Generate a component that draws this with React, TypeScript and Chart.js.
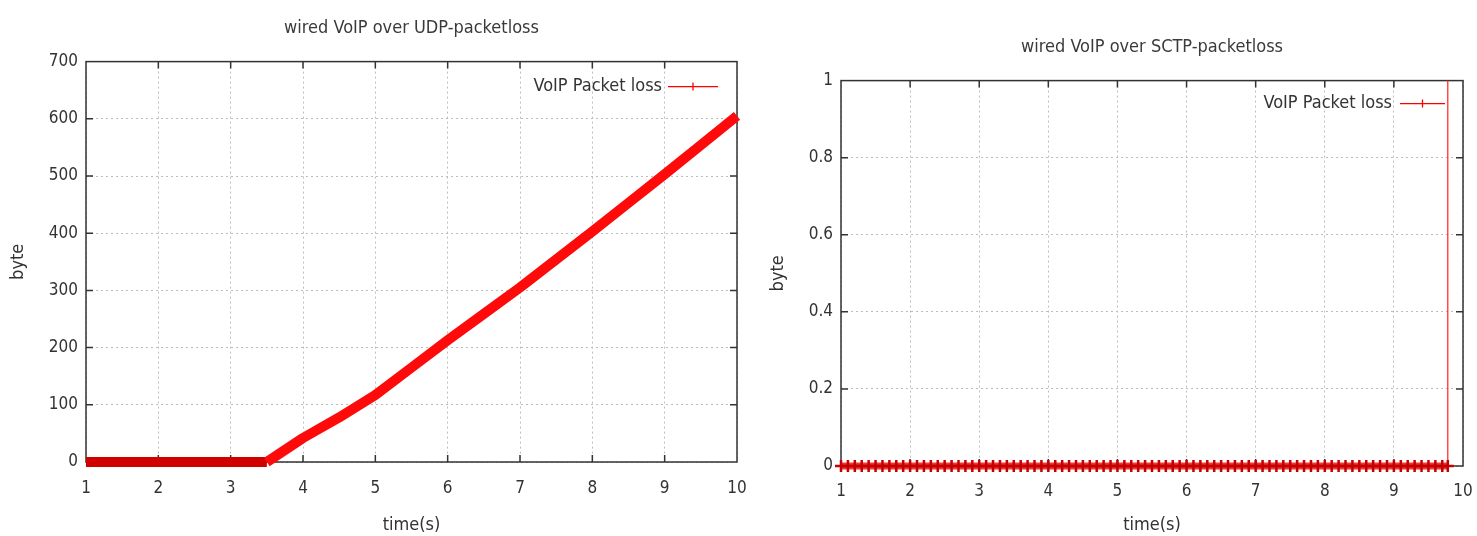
import React, { useEffect, useRef } from "react";
import { Chart, registerables } from "chart.js";

Chart.register(...registerables);

// ---------- data ----------
const udpTitle = "wired VoIP over UDP-packetloss";
const sctpTitle = "wired VoIP over SCTP-packetloss";
const seriesLabel = "VoIP Packet loss";
const xAxisLabel = "time(s)";
const yAxisLabel = "byte";

const udpTimes = [1, 1.5, 2, 2.5, 3, 3.5, 4, 4.5, 5, 5.5, 6, 6.5, 7, 7.5, 8, 8.5, 9, 9.5, 10];
const udpLoss = [0, 0, 0, 0, 0, 0, 42, 78, 117, 165, 213, 259, 305, 354, 403, 453, 503, 554, 605];

const sctpTimes = [
  1.0, 1.1, 1.2, 1.3, 1.4, 1.5, 1.6, 1.7, 1.8, 1.9,
  2.0, 2.1, 2.2, 2.3, 2.4, 2.5, 2.6, 2.7, 2.8, 2.9,
  3.0, 3.1, 3.2, 3.3, 3.4, 3.5, 3.6, 3.7, 3.8, 3.9,
  4.0, 4.1, 4.2, 4.3, 4.4, 4.5, 4.6, 4.7, 4.8, 4.9,
  5.0, 5.1, 5.2, 5.3, 5.4, 5.5, 5.6, 5.7, 5.8, 5.9,
  6.0, 6.1, 6.2, 6.3, 6.4, 6.5, 6.6, 6.7, 6.8, 6.9,
  7.0, 7.1, 7.2, 7.3, 7.4, 7.5, 7.6, 7.7, 7.8, 7.9,
  8.0, 8.1, 8.2, 8.3, 8.4, 8.5, 8.6, 8.7, 8.8, 8.9,
  9.0, 9.1, 9.2, 9.3, 9.4, 9.5, 9.6, 9.7, 9.78, 9.78,
];
const sctpLoss = [
  0, 0, 0, 0, 0, 0, 0, 0, 0, 0,
  0, 0, 0, 0, 0, 0, 0, 0, 0, 0,
  0, 0, 0, 0, 0, 0, 0, 0, 0, 0,
  0, 0, 0, 0, 0, 0, 0, 0, 0, 0,
  0, 0, 0, 0, 0, 0, 0, 0, 0, 0,
  0, 0, 0, 0, 0, 0, 0, 0, 0, 0,
  0, 0, 0, 0, 0, 0, 0, 0, 0, 0,
  0, 0, 0, 0, 0, 0, 0, 0, 0, 0,
  0, 0, 0, 0, 0, 0, 0, 0, 0, 1,
];

const xMin = 1;
const xMax = 10;
const xStep = 1;
const udpYMax = 700;
const udpYStep = 100;
const sctpYMax = 1;
const sctpYStep = 0.2;

// ---------- styling ----------
const FONT = "'DejaVu Sans Condensed', 'DejaVu Sans', sans-serif";
const TEXT = "#333333";
const GRID = "#bdbdbd";
const FRAME = "#333333";
const TICK_SIZE = 17;
const LABEL_SIZE = 18;

type Layout = {
  width: number;
  yAxisWidth: number;
  xAxisHeight: number;
  padRight: number;
  titleTop: number;
  titleBottom: number;
  xTickPad: number;
  legendTextOff: number;
  legendLineStart: number;
  legendLineEnd: number;
  legendDy: number;
};

function framePlugin(L: Layout) {
  return {
    id: "gnuframe",
    beforeDatasetsDraw(chart: any) {
      const { ctx, chartArea: a, scales } = chart;
      ctx.save();
      ctx.strokeStyle = FRAME;
      ctx.lineWidth = 1.5;
      ctx.strokeRect(a.left, a.top, a.right - a.left, a.bottom - a.top);
      ctx.beginPath();
      const tl = 7;
      scales.x.ticks.forEach((t: any) => {
        const px = scales.x.getPixelForValue(t.value);
        if (px <= a.left + 1 || px >= a.right - 1) return;
        ctx.moveTo(px, a.bottom);
        ctx.lineTo(px, a.bottom - tl);
        ctx.moveTo(px, a.top);
        ctx.lineTo(px, a.top + tl);
      });
      scales.y.ticks.forEach((t: any) => {
        const py = scales.y.getPixelForValue(t.value);
        if (py <= a.top + 1 || py >= a.bottom - 1) return;
        ctx.moveTo(a.left, py);
        ctx.lineTo(a.left + tl, py);
        ctx.moveTo(a.right, py);
        ctx.lineTo(a.right - tl, py);
      });
      ctx.stroke();
      ctx.restore();
    },
    afterDatasetsDraw(chart: any) {
      const { ctx, chartArea: a } = chart;
      const y = a.top + L.legendDy;
      ctx.save();
      ctx.font = `${LABEL_SIZE}px ${FONT}`;
      ctx.fillStyle = TEXT;
      ctx.textAlign = "right";
      ctx.textBaseline = "middle";
      ctx.fillText(seriesLabel, a.right - L.legendTextOff, y);
      ctx.strokeStyle = "#ff0000";
      ctx.lineWidth = 1.3;
      ctx.beginPath();
      const x0 = a.right - L.legendLineStart;
      const x1 = a.right - L.legendLineEnd;
      ctx.moveTo(x0, y);
      ctx.lineTo(x1, y);
      const cx = (x0 + x1) / 2;
      ctx.moveTo(cx, y - 4);
      ctx.lineTo(cx, y + 4);
      ctx.stroke();
      ctx.restore();
    },
  };
}

function buildConfig(
  title: string,
  times: number[],
  values: number[],
  yMax: number,
  yStep: number,
  L: Layout,
  kind: "udp" | "sctp"
): any {
  const points = times.map((t, i) => ({ x: t, y: values[i] }));
  const dataset: any =
    kind === "udp"
      ? {
          label: seriesLabel,
          data: points,
          borderColor: "#ff0000",
          borderWidth: 10,
          pointRadius: 0,
          tension: 0,
          clip: false,
          borderCapStyle: "butt",
          borderJoinStyle: "round",
          segment: {
            borderColor: (c: any) =>
              c.p0.parsed.y === 0 && c.p1.parsed.y === 0 ? "#d00000" : "#ff0a0a",
          },
        }
      : {
          label: seriesLabel,
          data: points,
          borderColor: "rgba(240,20,20,0.85)",
          borderWidth: 7,
          pointStyle: "cross",
          pointRadius: (c: any) => (c.raw && c.raw.y > 0 ? 0 : 6),
          pointBorderWidth: 2.5,
          pointBorderColor: "#c40000",
          tension: 0,
          clip: false,
          segment: {
            borderWidth: (c: any) => (c.p1.parsed.y > 0 ? 1.2 : 7),
            borderColor: (c: any) => (c.p1.parsed.y > 0 ? "#ff2020" : "rgba(240,20,20,0.85)"),
          },
        };

  return {
    type: "line",
    data: { datasets: [dataset] },
    plugins: [framePlugin(L)],
    options: {
      responsive: false,
      animation: false,
      devicePixelRatio: 1,
      layout: { padding: { left: 0, right: L.padRight, top: 0, bottom: 0 } },
      plugins: {
        legend: { display: false },
        tooltip: { enabled: false },
        title: {
          display: true,
          text: title,
          fullSize: false,
          color: "#3a3a3a",
          font: { family: FONT, size: LABEL_SIZE, weight: "normal" },
          padding: { top: L.titleTop, bottom: L.titleBottom },
        },
      },
      scales: {
        x: {
          type: "linear",
          min: xMin,
          max: xMax,
          ticks: {
            stepSize: xStep,
            padding: L.xTickPad,
            color: TEXT,
            font: { family: FONT, size: TICK_SIZE },
            maxRotation: 0,
            autoSkip: false,
          },
          grid: { color: GRID, drawTicks: false, lineWidth: 1 },
          border: { display: false, dash: [2, 3] },
          title: {
            display: true,
            text: xAxisLabel,
            color: TEXT,
            font: { family: FONT, size: LABEL_SIZE },
            padding: { top: 0, bottom: 0 },
          },
          afterFit(s: any) {
            s.height = L.xAxisHeight;
            s.paddingLeft = 0;
            s.paddingRight = 0;
          },
        },
        y: {
          type: "linear",
          min: 0,
          max: yMax,
          ticks: {
            stepSize: yStep,
            padding: 8,
            color: TEXT,
            font: { family: FONT, size: TICK_SIZE },
            callback: (v: any) => String(Number(Number(v).toFixed(2))),
          },
          grid: { color: GRID, drawTicks: false, lineWidth: 1 },
          border: { display: false, dash: [2, 3] },
          title: {
            display: true,
            text: yAxisLabel,
            color: TEXT,
            font: { family: FONT, size: LABEL_SIZE },
            padding: { top: 8, bottom: 0 },
          },
          afterFit(s: any) {
            s.width = L.yAxisWidth;
            s.paddingTop = 0;
            s.paddingBottom = 0;
          },
        },
      },
    },
  };
}

function ChartCanvas({ config, width, height }: { config: any; width: number; height: number }) {
  const ref = useRef<HTMLCanvasElement | null>(null);
  useEffect(() => {
    if (!ref.current) return;
    const chart = new Chart(ref.current, config);
    return () => chart.destroy();
  }, [config]);
  return (
    <canvas
      ref={ref}
      width={width}
      height={height}
      style={{ display: "block", width: `${width}px`, height: `${height}px` }}
    />
  );
}

const leftLayout: Layout = {
  width: 760,
  yAxisWidth: 86,
  xAxisHeight: 74,
  padRight: 23,
  titleTop: 18,
  titleBottom: 22,
  xTickPad: 16,
  legendTextOff: 75,
  legendLineStart: 69,
  legendLineEnd: 19,
  legendDy: 25,
};

const rightLayout: Layout = {
  width: 717,
  yAxisWidth: 81,
  xAxisHeight: 70,
  padRight: 14,
  titleTop: 37,
  titleBottom: 22,
  xTickPad: 15,
  legendTextOff: 71,
  legendLineStart: 63,
  legendLineEnd: 18,
  legendDy: 23,
};

const leftConfig = buildConfig(udpTitle, udpTimes, udpLoss, udpYMax, udpYStep, leftLayout, "udp");
const rightConfig = buildConfig(sctpTitle, sctpTimes, sctpLoss, sctpYMax, sctpYStep, rightLayout, "sctp");

export default function App() {
  return (
    <div
      style={{
        position: "absolute",
        left: 0,
        top: 0,
        width: 1477,
        height: 536,
        background: "#ffffff",
        display: "flex",
      }}
    >
      <ChartCanvas config={leftConfig} width={leftLayout.width} height={536} />
      <ChartCanvas config={rightConfig} width={rightLayout.width} height={536} />
    </div>
  );
}
